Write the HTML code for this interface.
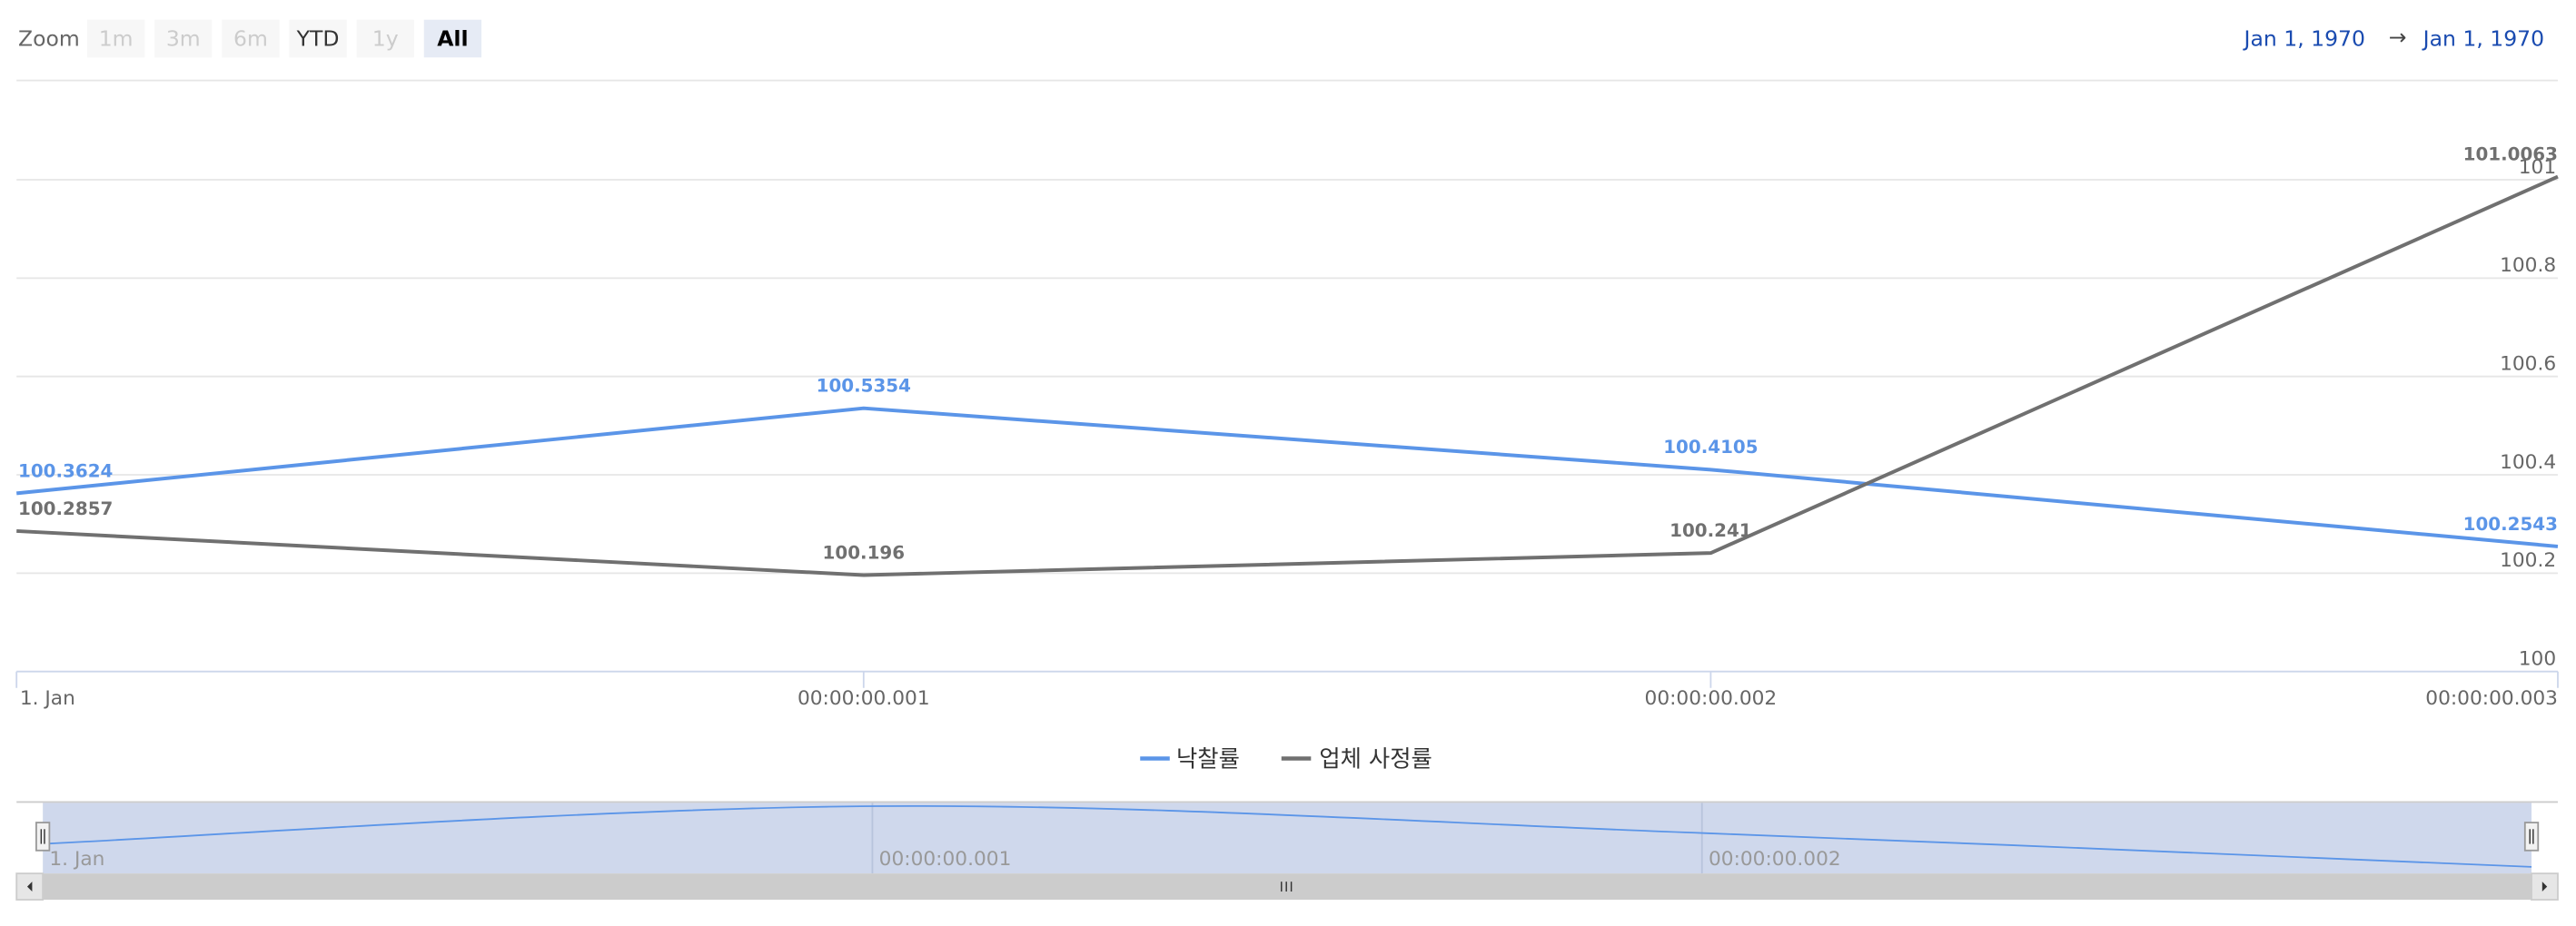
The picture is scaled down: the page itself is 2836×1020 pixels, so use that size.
<!DOCTYPE html>
<html><head><meta charset="utf-8"><style>
html,body{margin:0;padding:0;background:#fff;overflow:hidden}
svg{display:block}
text{font-family:"DejaVu Sans","Liberation Sans","Noto Sans CJK KR",sans-serif}
</style></head><body>
<svg id="chart" width="2836" height="1020" viewBox="0 0 1568 564" xmlns="http://www.w3.org/2000/svg">
<rect width="1568" height="564" fill="#fff"/>
<g>
 <text x="11" y="28" font-size="13" fill="#666">Zoom</text>
 <g><rect x="53" y="12" width="35" height="23" fill="#f7f7f7"/><text x="70.5" y="28" font-size="13" fill="#ccc" text-anchor="middle">1m</text></g>
 <g><rect x="94" y="12" width="35" height="23" fill="#f7f7f7"/><text x="111.5" y="28" font-size="13" fill="#ccc" text-anchor="middle">3m</text></g>
 <g><rect x="135" y="12" width="35" height="23" fill="#f7f7f7"/><text x="152.5" y="28" font-size="13" fill="#ccc" text-anchor="middle">6m</text></g>
 <g><rect x="176" y="12" width="35" height="23" fill="#f7f7f7"/><text x="193.5" y="28" font-size="13" fill="#333" text-anchor="middle">YTD</text></g>
 <g><rect x="217" y="12" width="35" height="23" fill="#f7f7f7"/><text x="234.5" y="28" font-size="13" fill="#ccc" text-anchor="middle">1y</text></g>
 <g><rect x="258" y="12" width="35" height="23" fill="#e6ebf5"/><text x="275.5" y="28" font-size="13" fill="#000" font-weight="bold" text-anchor="middle">All</text></g>
 <text x="1366" y="28" font-size="13" fill="#1a4bb0">Jan 1, 1970</text>
 <text x="1454" y="27" font-size="13" fill="#444">→</text>
 <text x="1475" y="28" font-size="13" fill="#1a4bb0">Jan 1, 1970</text>
</g>
<g id="grid"></g>
<g id="xaxis"></g>
<g id="series"></g>
<g>
 <g><line x1="694" y1="462" x2="712" y2="462" stroke="#5b95e8" stroke-width="2.5"/><text x="716" y="467" font-size="14" fill="#333">낙찰률</text></g>
 <g><line x1="780" y1="462" x2="798" y2="462" stroke="#707070" stroke-width="2.5"/><text x="803" y="467" font-size="14" fill="#333">업체 사정률</text></g>
</g>
<g id="nav"></g>
</svg>
<script>
const categories=["1. Jan","00:00:00.001","00:00:00.002","00:00:00.003"];
const bidRate=[100.3624,100.5354,100.4105,100.2543];
const assessRate=[100.2857,100.196,100.241,101.0063];
const yTicks=[100,100.2,100.4,100.6,100.8,101];
const NS="http://www.w3.org/2000/svg";
function el(t,a,p){const e=document.createElementNS(NS,t);for(const k in a)e.setAttribute(k,a[k]);p.appendChild(e);return e;}
const X0=10,X1=1557,Y0=409,YPER=299.5;
const xs=i=>X0+(X1-X0)*i/(categories.length-1);
const ys=v=>Y0-(v-100)*YPER;
const grid=document.getElementById('grid');
el('line',{x1:10,x2:1557,y1:49,y2:49,stroke:'#e6e6e6'},grid);
yTicks.forEach(v=>{
 if(v!==100){const l=el('line',{x1:X0,x2:X1,y1:ys(v),y2:ys(v),stroke:'#e6e6e6'},grid);
 
 }
 const t=el('text',{x:1556,y:ys(v)-4,'font-size':12,fill:'#666','text-anchor':'end'},grid);
 t.textContent=String(v);
 
 
});
const xa=document.getElementById('xaxis');
el('line',{x1:X0,x2:X1,y1:Y0,y2:Y0,stroke:'#ccd6eb'},xa);
categories.forEach((c,i)=>{
 el('line',{x1:xs(i),x2:xs(i),y1:Y0,y2:Y0+10,stroke:'#ccd6eb'},xa);
 const anchor=i===0?'start':(i===categories.length-1?'end':'middle');
 const t=el('text',{x:i===0?12:xs(i),y:Y0+20,'font-size':12,fill:'#666','text-anchor':anchor},xa);
 t.textContent=c;
 
 
});
const sg=document.getElementById('series');
function drawSeries(data,color,name){
 const p=el('polyline',{points:data.map((v,i)=>xs(i)+','+ys(v)).join(' '),fill:'none',stroke:color,'stroke-width':2.2,'stroke-linejoin':'round'},sg);
 
 
 data.forEach((v,i)=>{
  const anchor=i===0?'start':(i===data.length-1?'end':'middle');
  const t=el('text',{x:i===0?11:(i===data.length-1?1557:xs(i)),y:ys(v)-10,'font-size':11,'font-weight':'bold',fill:color,'text-anchor':anchor},sg);
  t.textContent=String(v);
  
  
 });
}
drawSeries(bidRate,'#5b95e8','bid-rate');
drawSeries(assessRate,'#707070','assessment-rate');
const nav=document.getElementById('nav');
el('rect',{x:10,y:488,width:1547,height:44,fill:'#fff'},nav);
const m=el('rect',{x:26,y:489,width:1515,height:43,fill:'#ccd6eb',opacity:0.95},nav);


el('line',{x1:10,x2:1557,y1:488.5,y2:488.5,stroke:'#ccc'},nav);
const nx=i=>30+(1541-30)*i/(categories.length-1);
const mx=Math.max(...bidRate),mn=Math.min(...bidRate);
const ny=v=>491+(mx-v)*(37/(mx-mn));
[1,2].forEach(i=>el('line',{x1:26+(1515)*i/3,x2:26+1515*i/3,y1:489,y2:532,stroke:'#b8c4dc'},nav));
const pts=bidRate.map((v,i)=>[nx(i),ny(v)]);
let d='M'+pts[0][0]+','+pts[0][1];
for(let i=1;i<pts.length;i++){
 const p0=pts[Math.max(0,i-2)],p1=pts[i-1],p2=pts[i],p3=pts[Math.min(pts.length-1,i+1)];
 const c1=[p1[0]+(p2[0]-p0[0])/6,p1[1]+(p2[1]-p0[1])/6];
 const c2=[p2[0]-(p3[0]-p1[0])/6,p2[1]-(p3[1]-p1[1])/6];
 d+=` C${c1[0]},${c1[1]} ${c2[0]},${c2[1]} ${p2[0]},${p2[1]}`;
}
const np=el('path',{d:d,fill:'none',stroke:'#5b95e8','stroke-width':1},nav);


categories.slice(0,3).forEach((c,i)=>{
 const t=el('text',{x:i===0?30:26+1515*i/3+4,y:527,'font-size':12,fill:'#999'},nav);
 t.textContent=c;
 
 
});
[26,1541].forEach((hx,k)=>{
 const g=el('g',{},nav);
 
 
 el('rect',{x:hx-4,y:501,width:8,height:17,fill:'#f2f2f2',stroke:'#999','stroke-width':1},g);
 el('line',{x1:hx-1,x2:hx-1,y1:505,y2:514,stroke:'#333','stroke-width':0.8},g);
 el('line',{x1:hx+1,x2:hx+1,y1:505,y2:514,stroke:'#333','stroke-width':0.8},g);
});
const sb=el('g',{},nav);


el('rect',{x:10,y:532,width:1547,height:16,fill:'#f2f2f2'},sb);
el('rect',{x:26,y:532,width:1515,height:16,fill:'#cccccc'},sb);
el('rect',{x:10,y:532,width:16,height:16,fill:'#e6e6e6',stroke:'#ccc'},sb);
el('rect',{x:1541,y:532,width:16,height:16,fill:'#e6e6e6',stroke:'#ccc'},sb);
el('path',{d:'M19.5,537 L16.5,540 L19.5,543 Z',fill:'#333'},sb);
el('path',{d:'M1547.5,537 L1550.5,540 L1547.5,543 Z',fill:'#333'},sb);
[780,783,786].forEach(x=>el('line',{x1:x,x2:x,y1:537,y2:543,stroke:'#333','stroke-width':0.8},sb));
</script>
</body></html>
